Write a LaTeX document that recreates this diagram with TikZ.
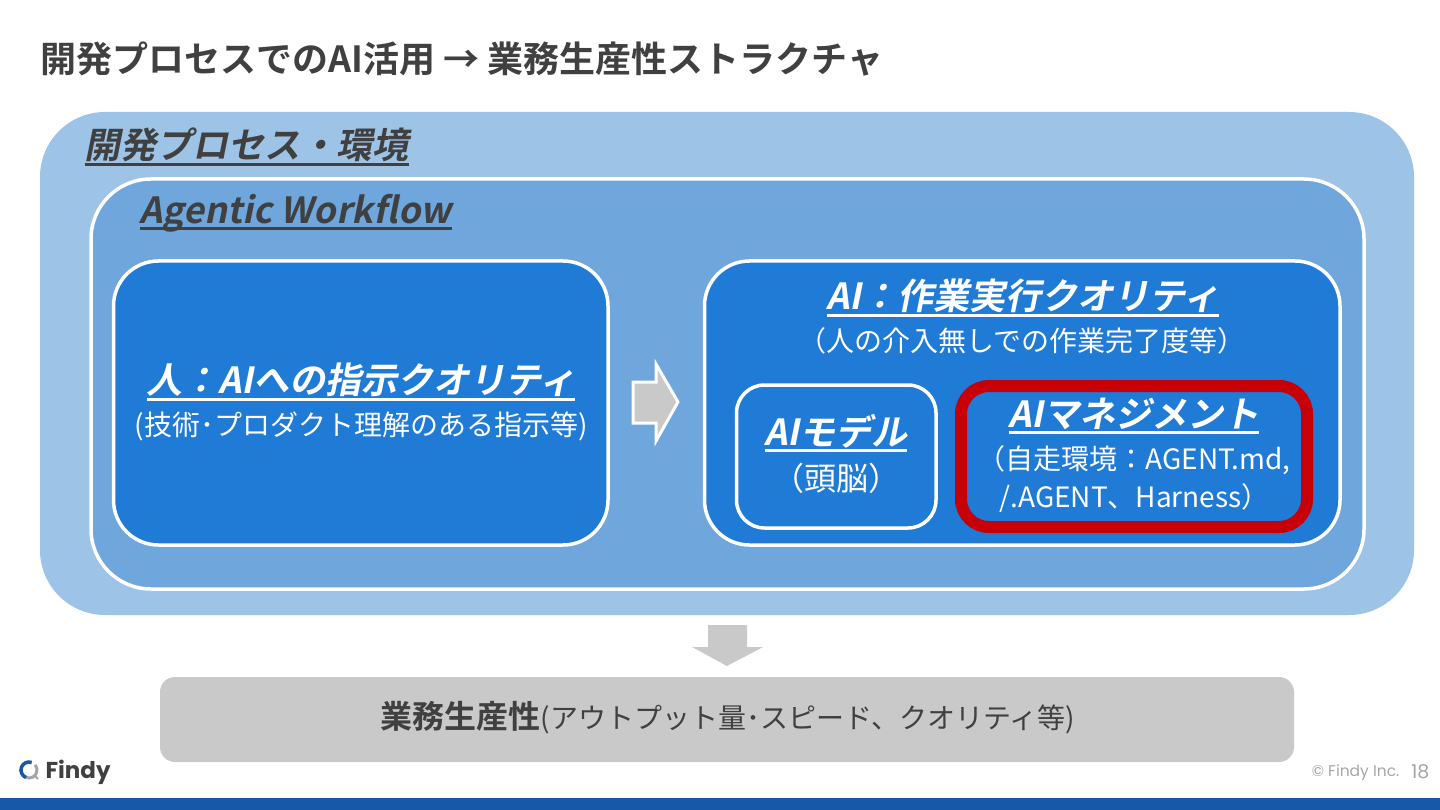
\documentclass[tikz,border=0pt]{standalone}
\usepackage{fontspec}
\usepackage{xcolor}
\setmainfont{Noto Sans CJK JP}
\newfontfamily\jpbold{Noto Sans CJK JP Bold}
\newfontfamily\jpital[FakeSlant=0.2]{Noto Sans CJK JP Bold}
\newfontfamily\logofont{Poppins}
\usepackage{tikz}
\definecolor{outerblue}{HTML}{9DC3E6}
\definecolor{innerblue}{HTML}{6FA6DC}
\definecolor{deepblue}{HTML}{1F7BD6}
\definecolor{inkgray}{HTML}{404040}
\definecolor{softgray}{HTML}{C9C9C9}
\definecolor{barblue}{HTML}{1858A8}
\definecolor{alertred}{HTML}{C60006}
\definecolor{footgray}{HTML}{A6A6A6}
\newcommand{\thickul}[1]{\setbox0\hbox{#1}\rlap{\rule[-7pt]{\wd0}{3pt}}\box0}

\begin{document}
\begin{tikzpicture}[x=1pt,y=-1pt,
          whitebox/.style={draw=white, line width=3.5pt, fill=deepblue},
          headlbl/.style={font=\fontsize{36}{36}\jpital, white},
          sublbl/.style={font=\fontsize{28}{28}\selectfont, white},
          darklbl/.style={font=\fontsize{36}{36}\jpital, inkgray},
        ]
        \useasboundingbox (0,0) rectangle (1440,810);
        \fill[white] (0,0) rectangle (1440,810);
        \fill[barblue] (0,798) rectangle (1440,810);
        \node[font=\fontsize{36}{36}\jpbold, inkgray, anchor=west] (titlelbl) at (37,59) {開発プロセスでのAI活用 → 業務生産性ストラクチャ};
        % nested boxes
        \fill[outerblue, rounded corners=65pt] (40,112) rectangle (1414,615);
        \draw[draw=white, line width=3.5pt, fill=innerblue, rounded corners=60pt] (91,179) rectangle (1364,589);
        \draw[whitebox, rounded corners=45pt] (113.5,261) rectangle (608,545);
        \draw[whitebox, rounded corners=45pt] (704.5,261) rectangle (1340,545);
        \draw[whitebox, rounded corners=28pt] (736.5,385) rectangle (936,528);
        \draw[draw=alertred, line width=12pt, fill=deepblue, rounded corners=28pt] (961,386) rectangle (1307,527);
        % labels
        \node[darklbl, anchor=west] (envlbl) at (81,147) {\thickul{開発プロセス・環境}};
        \node[darklbl, anchor=west] (flowlbl) at (136,213) {\thickul{Agentic Workflow}};
        \node[headlbl] (humanlbl) at (361,382) {\thickul{人：AIへの指示クオリティ}};
        \node[sublbl] (humansub) at (361,426) {(技術･プロダクト理解のある指示等)};
        \node[headlbl] (ailbl) at (1023,298) {\thickul{AI：作業実行クオリティ}};
        \node[sublbl] (aisub) at (1022,341) {（人の介入無しでの作業完了度等）};
        \node[headlbl] (modellbl) at (836,433) {\thickul{AIモデル}};
        \node[font=\fontsize{32}{32}\selectfont, white] (modelsub) at (836,478) {（頭脳）};
        \node[headlbl] (mgmtlbl) at (1134,416) {\thickul{AIマネジメント}};
        \node[sublbl, anchor=west] (mgmtsub) at (974,460) {（自走環境：AGENT.md,};
        \node[sublbl, anchor=west] (mgmtsubb) at (996,498) {/.AGENT、Harness）};
        % arrows
        \draw[draw=white, line width=3pt, fill=softgray, line join=miter] (633,382) -- (656,382) -- (656,364) -- (678,402) -- (656,441) -- (656,423) -- (633,423) -- cycle;
        \fill[softgray] (708,625) -- (747,625) -- (747,647) -- (763,647) -- (727,666) -- (692,647) -- (708,647) -- cycle;
        % result box
        \fill[softgray, rounded corners=15pt] (160,677) rectangle (1294,762);
        \node[font=\fontsize{28}{28}\selectfont, inkgray] (resultlbl) at (728,718) {{\jpbold\fontsize{32}{32}\selectfont 業務生産性}(アウトプット量･スピード、クオリティ等)};
        % footer
        \draw[footgray, line width=3pt] (26.3,777.5) arc[start angle=250, end angle=400, radius=8pt];
        \draw[footgray, line width=2pt] (34,775) -- (38,779);
        \draw[barblue, line width=3.5pt] (31.7,762.5) arc[start angle=70, end angle=250, radius=8pt];
        \node[font=\fontsize{23}{23}\logofont\bfseries, inkgray, anchor=west] (logolbl) at (42,772) {Findy};
        \node[font=\fontsize{15.5}{15.5}\logofont, footgray, anchor=east] (copylbl) at (1403,773) {© Findy Inc.};
        \node[font=\fontsize{19}{19}\logofont, footgray, anchor=east] (pagelbl) at (1433,772) {18};
      \end{tikzpicture}
\end{document}
